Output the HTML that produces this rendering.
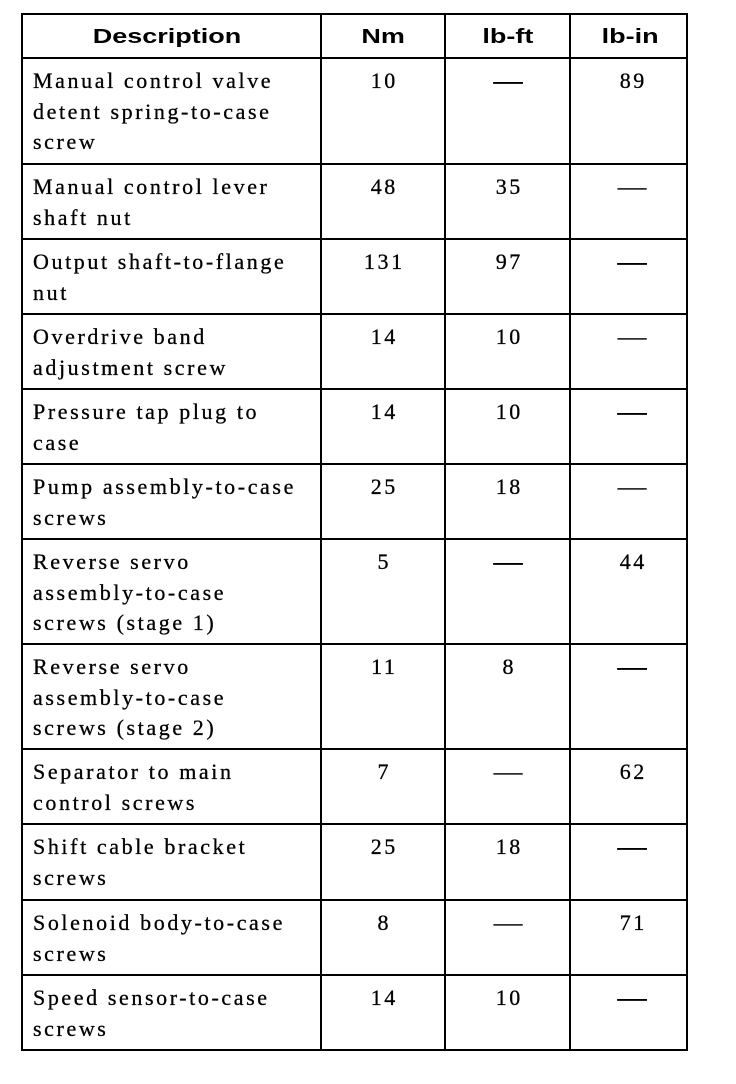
<!DOCTYPE html>
<html>
<head>
<meta charset="utf-8">
<style>
html,body{margin:0;padding:0;}
body{width:736px;height:1084px;background:#fff;position:relative;overflow:hidden;}
.h{position:absolute;height:2px;background:#000;}
.v{position:absolute;width:2px;background:#000;}
.t{position:absolute;font-family:"Liberation Serif","DejaVu Serif",serif;font-size:22px;line-height:30.5px;letter-spacing:2.6px;color:#000;white-space:nowrap;-webkit-text-stroke:0.3px #000;}
.n{position:absolute;width:120px;box-sizing:border-box;padding-left:2.6px;text-align:center;font-family:"Liberation Serif","DejaVu Serif",serif;font-size:22px;line-height:30.5px;letter-spacing:2.6px;color:#000;white-space:nowrap;-webkit-text-stroke:0.3px #000;}
.d{display:inline-block;letter-spacing:0;transform:scaleX(1.3);margin-left:-2.6px;}
.b{-webkit-text-stroke:0.7px #000;}
.hd{position:absolute;width:200px;text-align:center;font-family:"Liberation Sans","DejaVu Sans",sans-serif;font-weight:bold;font-size:20px;line-height:30px;color:#000;white-space:nowrap;top:21.6px;}
.hd span{display:inline-block;transform:scaleX(1.35);}
</style>
</head>
<body>
<!-- horizontal lines -->
<div class="h" style="left:21px;width:667px;top:13px"></div>
<div class="h" style="left:21px;width:667px;top:57px"></div>
<div class="h" style="left:21px;width:667px;top:163px"></div>
<div class="h" style="left:21px;width:667px;top:238px"></div>
<div class="h" style="left:21px;width:667px;top:313px"></div>
<div class="h" style="left:21px;width:667px;top:388px"></div>
<div class="h" style="left:21px;width:667px;top:463px"></div>
<div class="h" style="left:21px;width:667px;top:538px"></div>
<div class="h" style="left:21px;width:667px;top:643px"></div>
<div class="h" style="left:21px;width:667px;top:748px"></div>
<div class="h" style="left:21px;width:667px;top:823px"></div>
<div class="h" style="left:21px;width:667px;top:899px"></div>
<div class="h" style="left:21px;width:667px;top:974px"></div>
<div class="h" style="left:21px;width:667px;top:1049px"></div>
<!-- vertical lines -->
<div class="v" style="left:21px;top:13px;height:1038px"></div>
<div class="v" style="left:320px;top:13px;height:1038px"></div>
<div class="v" style="left:444px;top:13px;height:1038px"></div>
<div class="v" style="left:569px;top:13px;height:1038px"></div>
<div class="v" style="left:686px;top:13px;height:1038px"></div>

<!-- header -->
<div class="hd" style="left:67px"><span>Description</span></div>
<div class="hd" style="left:283px"><span>Nm</span></div>
<div class="hd" style="left:408px"><span>lb-ft</span></div>
<div class="hd" style="left:530px"><span>lb-in</span></div>

<!-- row 1 -->
<div class="t" style="left:33px;top:66.3px">Manual control valve<br>detent spring-to-case<br>screw</div>
<div class="n" style="left:323px;top:66.3px">10</div>
<div class="n" style="left:448px;top:66.3px"><span class="d b">—</span></div>
<div class="n" style="left:572px;top:66.3px">89</div>

<!-- row 2 -->
<div class="t" style="left:33px;top:172.3px">Manual control lever<br>shaft nut</div>
<div class="n" style="left:323px;top:172.3px">48</div>
<div class="n" style="left:448px;top:172.3px">35</div>
<div class="n" style="left:572px;top:172.3px"><span class="d">—</span></div>

<!-- row 3 -->
<div class="t" style="left:33px;top:247.3px">Output shaft-to-flange<br>nut</div>
<div class="n" style="left:323px;top:247.3px">131</div>
<div class="n" style="left:448px;top:247.3px">97</div>
<div class="n" style="left:572px;top:247.3px"><span class="d b">—</span></div>

<!-- row 4 -->
<div class="t" style="left:33px;top:322.3px">Overdrive band<br>adjustment screw</div>
<div class="n" style="left:323px;top:322.3px">14</div>
<div class="n" style="left:448px;top:322.3px">10</div>
<div class="n" style="left:572px;top:322.3px"><span class="d">—</span></div>

<!-- row 5 -->
<div class="t" style="left:33px;top:397.3px">Pressure tap plug to<br>case</div>
<div class="n" style="left:323px;top:397.3px">14</div>
<div class="n" style="left:448px;top:397.3px">10</div>
<div class="n" style="left:572px;top:397.3px"><span class="d b">—</span></div>

<!-- row 6 -->
<div class="t" style="left:33px;top:472.3px">Pump assembly-to-case<br>screws</div>
<div class="n" style="left:323px;top:472.3px">25</div>
<div class="n" style="left:448px;top:472.3px">18</div>
<div class="n" style="left:572px;top:472.3px"><span class="d">—</span></div>

<!-- row 7 -->
<div class="t" style="left:33px;top:547.3px">Reverse servo<br>assembly-to-case<br>screws (stage 1)</div>
<div class="n" style="left:323px;top:547.3px">5</div>
<div class="n" style="left:448px;top:547.3px"><span class="d b">—</span></div>
<div class="n" style="left:572px;top:547.3px">44</div>

<!-- row 8 -->
<div class="t" style="left:33px;top:652.3px">Reverse servo<br>assembly-to-case<br>screws (stage 2)</div>
<div class="n" style="left:323px;top:652.3px">11</div>
<div class="n" style="left:448px;top:652.3px">8</div>
<div class="n" style="left:572px;top:652.3px"><span class="d b">—</span></div>

<!-- row 9 -->
<div class="t" style="left:33px;top:757.3px">Separator to main<br>control screws</div>
<div class="n" style="left:323px;top:757.3px">7</div>
<div class="n" style="left:448px;top:757.3px"><span class="d">—</span></div>
<div class="n" style="left:572px;top:757.3px">62</div>

<!-- row 10 -->
<div class="t" style="left:33px;top:832.3px">Shift cable bracket<br>screws</div>
<div class="n" style="left:323px;top:832.3px">25</div>
<div class="n" style="left:448px;top:832.3px">18</div>
<div class="n" style="left:572px;top:832.3px"><span class="d b">—</span></div>

<!-- row 11 -->
<div class="t" style="left:33px;top:908.3px">Solenoid body-to-case<br>screws</div>
<div class="n" style="left:323px;top:908.3px">8</div>
<div class="n" style="left:448px;top:908.3px"><span class="d">—</span></div>
<div class="n" style="left:572px;top:908.3px">71</div>

<!-- row 12 -->
<div class="t" style="left:33px;top:983.3px">Speed sensor-to-case<br>screws</div>
<div class="n" style="left:323px;top:983.3px">14</div>
<div class="n" style="left:448px;top:983.3px">10</div>
<div class="n" style="left:572px;top:983.3px"><span class="d b">—</span></div>
</body>
</html>
